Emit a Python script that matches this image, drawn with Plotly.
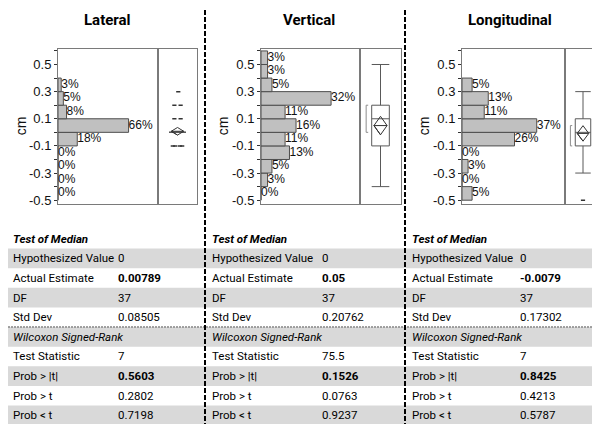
import plotly.graph_objects as go

W, H = 600, 424

# ---------------- data ----------------
panels = ["Lateral", "Vertical", "Longitudinal"]
bin_centers = [-0.45, -0.35, -0.25, -0.15, -0.05, 0.05, 0.15, 0.25, 0.35, 0.45, 0.55]

lateral_pct = [0, 0, 0, 0, 18, 66, 8, 5, 3, None, None]
vertical_pct = [0, 3, 5, 13, 11, 16, 11, 32, 5, 3, 3]
longitudinal_pct = [5, 0, 3, 0, 26, 37, 11, 13, 5, None, None]

# box-plot summaries (cm)
box_q1 = [0.0, -0.1, -0.1]
box_median = [0.0, 0.1, 0.0]
box_q3 = [0.0, 0.2, 0.1]
box_low = [0.0, -0.4, -0.3]
box_high = [0.0, 0.5, 0.3]
means = [0.00789, 0.05, -0.0079]
mean_ci = [0.028, 0.068, 0.057]
shortest_half = [None, (0.0, 0.2), (-0.1, 0.05)]

lateral_outliers_y = [0.3, 0.2, 0.2, 0.1, 0.1, -0.1, -0.1, -0.1, -0.1]
lateral_outliers_jit = [0.02, -0.08, 0.08, -0.08, 0.08, -0.12, -0.06, 0.06, 0.12]
longitudinal_outliers_y = [-0.5]
longitudinal_outliers_jit = [0.0]

y_ticks = [-0.5, -0.3, -0.1, 0.1, 0.3, 0.5]
y_minor = [-0.4, -0.2, 0.0, 0.2, 0.4, 0.6]

row_labels = ["Hypothesized Value", "Actual Estimate", "DF", "Std Dev"]
row_labels2 = ["Test Statistic", "Prob > |t|", "Prob > t", "Prob < t"]
lateral_vals = ["0", "0.00789", "37", "0.08505", "7", "0.5603", "0.2802", "0.7198"]
vertical_vals = ["0", "0.05", "37", "0.20762", "75.5", "0.1526", "0.0763", "0.9237"]
longitudinal_vals = ["0", "-0.0079", "37", "0.17302", "7", "0.8425", "0.4213", "0.5787"]
bold_rows = [1, 5]

# ---------------- layout geometry ----------------
hist_px = [(50, 150), (253, 352), (454, 557)]
box_px = [(150, 189), (352, 393), (557, 593)]
hist_xmax = [93.5, 45.2, 51.0]
y_top, y_bot = 41, 198
ydom = [(H - y_bot) / H, (H - y_top) / H]
yrange = [-0.529, 0.617]
title_x = [99, 301, 502]
cm_x = [13, 215, 416]
lab_x = [3, 202, 402]
val_x = [108, 312, 510]

FRAME = "#7a7a7a"
BAR_FILL = "#c0c0c0"
BAR_LINE = "#4d4d4d"
BOX_LINE = "#595959"
TFONT = "Roboto"
AFONT = "Liberation Sans"

fig = go.Figure()
layout = dict(width=W, height=H, margin=dict(l=0, r=0, t=0, b=0),
              paper_bgcolor="white", plot_bgcolor="white", showlegend=False)

pcts = [lateral_pct, vertical_pct, longitudinal_pct]
outliers = [(lateral_outliers_y, lateral_outliers_jit), None,
            (longitudinal_outliers_y, longitudinal_outliers_jit)]

annotations = []
shapes = []

for i in range(3):
    hx = 2 * i + 1
    bx = 2 * i + 2
    hxn = "x" if hx == 1 else f"x{hx}"
    hyn = "y" if hx == 1 else f"y{hx}"
    bxn, byn = f"x{bx}", f"y{bx}"
    hkey = "" if hx == 1 else str(hx)

    ys = [c for c, p in zip(bin_centers, pcts[i]) if p is not None]
    xs = [p for p in pcts[i] if p is not None]
    fig.add_trace(go.Bar(x=xs, y=ys, orientation="h", width=0.1,
                         marker=dict(color=BAR_FILL, line=dict(color=BAR_LINE, width=1)),
                         xaxis=hxn, yaxis=hyn, hoverinfo="skip"))
    fig.add_trace(go.Scatter(x=xs, y=ys, mode="text", text=[f"{v}%" for v in xs],
                             textposition="middle right", cliponaxis=False,
                             textfont=dict(family=AFONT, size=12, color="#111"),
                             xaxis=hxn, yaxis=hyn, hoverinfo="skip"))

    # box plot
    fig.add_trace(go.Box(x=[0], q1=[box_q1[i]], median=[box_median[i]], q3=[box_q3[i]],
                         lowerfence=[box_low[i]], upperfence=[box_high[i]],
                         width=0.43, whiskerwidth=1, fillcolor="rgba(0,0,0,0)",
                         line=dict(color=BOX_LINE, width=1), boxpoints=False,
                         xaxis=bxn, yaxis=byn, hoverinfo="skip"))
    m, c, dw = means[i], mean_ci[i], 0.16
    fig.add_trace(go.Scatter(x=[0, dw, 0, -dw, 0, -dw, dw], y=[m - c, m, m + c, m, m - c, m, m],
                             mode="lines", line=dict(color="#333", width=1),
                             xaxis=bxn, yaxis=byn, hoverinfo="skip"))
    if shortest_half[i] is not None:
        lo, hi = shortest_half[i]
        bxp, tk = -0.35, 0.05
        fig.add_trace(go.Scatter(x=[bxp + tk, bxp, bxp, bxp + tk], y=[lo, lo, hi, hi],
                                 mode="lines", line=dict(color="#8c8c8c", width=1),
                                 xaxis=bxn, yaxis=byn, hoverinfo="skip"))
    if outliers[i] is not None:
        oy, oj = outliers[i]
        fig.add_trace(go.Scatter(x=oj, y=oy, mode="markers",
                                 marker=dict(symbol="line-ew", size=3,
                                             line=dict(color="#333", width=1.5)),
                                 xaxis=bxn, yaxis=byn, hoverinfo="skip"))

    layout["xaxis" + hkey] = dict(domain=[hist_px[i][0] / W, hist_px[i][1] / W],
                                  range=[0, hist_xmax[i]], anchor=hyn,
                                  showticklabels=False, ticks="", showgrid=False,
                                  zeroline=False, showline=True, mirror=True,
                                  linecolor=FRAME, linewidth=1)
    layout["yaxis" + hkey] = dict(domain=ydom, range=yrange, anchor=hxn,
                                  tickmode="array", tickvals=y_ticks,
                                  ticktext=[f"{v:g}" for v in y_ticks],
                                  ticks="outside", ticklen=3, tickcolor="#333",
                                  minor=dict(tickmode="array", tickvals=y_minor,
                                             ticks="outside", ticklen=3, tickcolor="#333"),
                                  tickfont=dict(family=AFONT, size=13, color="#111"),
                                  showgrid=False, zeroline=False, showline=True,
                                  linecolor=FRAME, linewidth=1, mirror=True)
    layout[f"xaxis{bx}"] = dict(domain=[box_px[i][0] / W, box_px[i][1] / W],
                                range=[-0.5, 0.5], anchor=byn, showticklabels=False,
                                ticks="", showgrid=False, zeroline=False,
                                showline=True, mirror=True, linecolor=FRAME, linewidth=1)
    layout[f"yaxis{bx}"] = dict(domain=ydom, range=yrange, anchor=bxn, matches=hyn,
                                showticklabels=False, ticks="", showgrid=False,
                                zeroline=False, showline=True, mirror=True,
                                linecolor=FRAME, linewidth=1)

    annotations.append(dict(x=title_x[i] / W, y=1 - 12 / H, xref="paper", yref="paper",
                            text=f"<b>{panels[i]}</b>", showarrow=False,
                            font=dict(family=TFONT, size=15, color="black"),
                            xanchor="center", yanchor="middle"))
    annotations.append(dict(x=cm_x[i] / W, y=1 - 119.5 / H, xref="paper", yref="paper",
                            text="cm", textangle=-90, showarrow=False,
                            font=dict(family=AFONT, size=14, color="#111"),
                            xanchor="center", yanchor="middle"))

# ---------------- table ----------------
row_y = [233 + 19.8 * k for k in range(10)]
for k in [1, 3, 5, 7, 9]:
    shapes.append(dict(type="rect", xref="paper", yref="paper", x0=0, x1=1,
                       y0=1 - (row_y[k] + 10) / H, y1=1 - (row_y[k] - 10) / H,
                       fillcolor="#d9d9d9", line=dict(width=0), layer="below"))
shapes.append(dict(type="line", xref="paper", yref="paper", x0=0, x1=1,
                   y0=1 - (row_y[5] - 10) / H, y1=1 - (row_y[5] - 10) / H,
                   line=dict(color="#555", width=1, dash="2px,1px")))
for sx in [197, 397]:
    shapes.append(dict(type="line", xref="paper", yref="paper", x0=sx / W, x1=sx / W,
                       y0=0, y1=1, line=dict(color="black", width=2, dash="5px,2px")))

vals_all = [lateral_vals, vertical_vals, longitudinal_vals]
TS = 11.5
for i in range(3):
    def txt(x, y, s):
        annotations.append(dict(x=x / W, y=1 - y / H, xref="paper", yref="paper", text=s,
                                showarrow=False, xanchor="left", yanchor="middle",
                                font=dict(family=TFONT, size=TS, color="black")))
    txt(lab_x[i], row_y[0], "<b><i>Test of Median</i></b>")
    for k, lab in enumerate(row_labels):
        txt(lab_x[i], row_y[1 + k], lab)
    txt(lab_x[i], row_y[5], "<i>Wilcoxon Signed-Rank</i>")
    for k, lab in enumerate(row_labels2):
        txt(lab_x[i], row_y[6 + k], lab)
    vrows = [1, 2, 3, 4, 6, 7, 8, 9]
    for k, v in enumerate(vals_all[i]):
        s = f"<b>{v}</b>" if k in bold_rows else v
        txt(val_x[i], row_y[vrows[k]], s)

layout["annotations"] = annotations
layout["shapes"] = shapes
fig.update_layout(**layout)
fig.write_html("out.html")
